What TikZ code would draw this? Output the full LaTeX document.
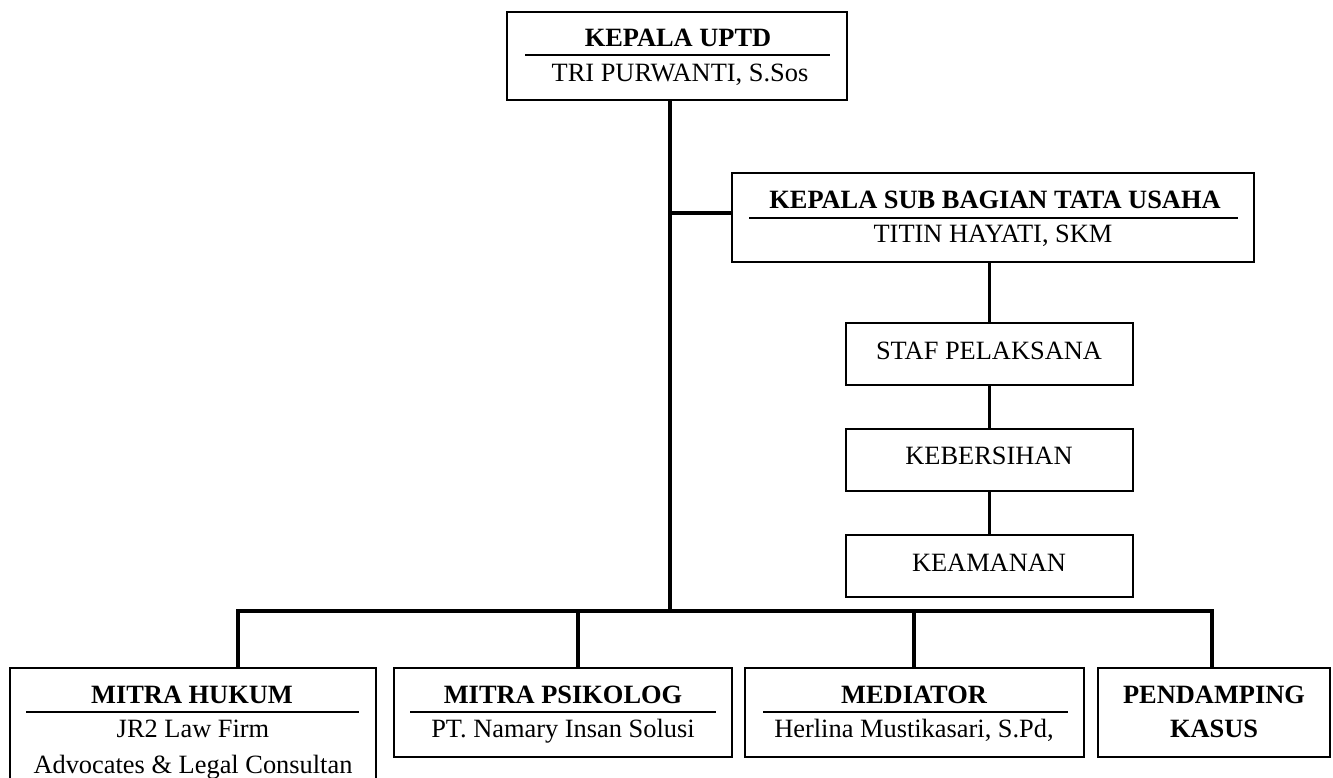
\documentclass[tikz,border=0pt]{standalone}
\usepackage{fontspec}
\setmainfont{Liberation Serif}
\begin{document}
\begin{tikzpicture}[x=1pt,y=-1pt,
  box/.style={draw=black,line width=1.6pt,fill=white,inner sep=0pt,outer sep=0pt},
  conn/.style={line width=3.4pt,line join=miter,line cap=butt},
  uline/.style={line width=2.4pt},
  txt/.style={anchor=base,inner sep=0pt,font=\fontsize{26.4}{32}\selectfont},
  btxt/.style={txt,font=\fontsize{26.4}{32}\selectfont\bfseries}]
\clip (0,0) rectangle (1333,778);
\fill[white] (0,0) rectangle (1333,778);
% boxes
\node[box,minimum width=340pt,minimum height=88pt] (kepala) at (677,56) {};
\node[box,minimum width=522pt,minimum height=89pt] (sub) at (993,217.5) {};
\node[box,minimum width=287pt,minimum height=62pt] (staf) at (989.5,354) {};
\node[box,minimum width=287pt,minimum height=62pt] (keb) at (989.5,460) {};
\node[box,minimum width=287pt,minimum height=62pt] (keam) at (989.5,566) {};
\node[box,minimum width=366pt,minimum height=132pt] (hukum) at (193,734) {};
\node[box,minimum width=338pt,minimum height=89pt] (psi) at (563,712.5) {};
\node[box,minimum width=339pt,minimum height=89pt] (med) at (914.5,712.5) {};
\node[box,minimum width=232pt,minimum height=89pt] (pend) at (1214,712.5) {};
% junction coordinates
\coordinate (top) at (670,100);
\coordinate (tee) at (670,213);
\coordinate (bus) at (670,611);
\coordinate (b1) at (238,611);
\coordinate (b2) at (578,611);
\coordinate (b3) at (914,611);
\coordinate (b4) at (1212,611);
% connectors
\draw[conn] (kepala.south -| top) -- (bus);
\draw[conn] (tee) -- (tee -| sub.west);
\draw[conn] (b1 |- hukum.north) -- (b1) -- (b4) -- (b4 |- pend.north);
\draw[conn] (b2) -- (b2 |- psi.north);
\draw[conn] (b3) -- (b3 |- med.north);
\draw[conn] (sub.south -| staf.north) -- (staf.north);
\draw[conn] (staf.south) -- (keb.north);
\draw[conn] (keb.south) -- (keam.north);
% texts
\node[btxt] (t1) at (678,47) {KEPALA UPTD};
\draw[uline] (525,55) -- (830,55);
\node[txt] (t2) at (680,82) {TRI PURWANTI, S.Sos};
\node[btxt] (t3) at (995,208) {KEPALA SUB BAGIAN TATA USAHA};
\draw[uline] (749,218) -- (1238,218);
\node[txt] (t4) at (993,243) {TITIN HAYATI, SKM};
\node[txt] (t5) at (989,359) {STAF PELAKSANA};
\node[txt] (t6) at (989,464) {KEBERSIHAN};
\node[txt] (t7) at (989,571) {KEAMANAN};
\node[btxt] (t8) at (192,703) {MITRA HUKUM};
\draw[uline] (26,712) -- (359,712);
\node[txt] (t9) at (193,737) {JR2 Law Firm};
\node[txt] (t10) at (193,773) {Advocates \& Legal Consultan};
\node[btxt] (t11) at (563,703) {MITRA PSIKOLOG};
\draw[uline] (410,712) -- (716,712);
\node[txt] (t12) at (563,737) {PT. Namary Insan Solusi};
\node[btxt] (t13) at (914,703) {MEDIATOR};
\draw[uline] (763,712) -- (1068,712);
\node[txt] (t14) at (914,737) {Herlina Mustikasari, S.Pd,};
\node[btxt] (t15) at (1214,703) {PENDAMPING};
\node[btxt] (t16) at (1214,737) {KASUS};
\end{tikzpicture}
\end{document}
